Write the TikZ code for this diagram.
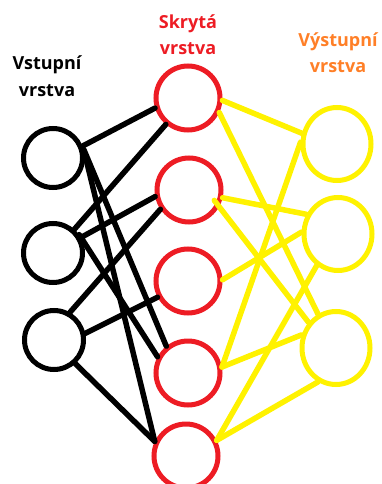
\documentclass[tikz,border=0pt]{standalone}
\usepackage{fontspec}
\setmainfont{Open Sans}
\usetikzlibrary{shapes.geometric}
\definecolor{paintred}{RGB}{237,28,36}
\definecolor{paintyellow}{RGB}{255,242,0}
\definecolor{paintorange}{RGB}{255,127,39}
\tikzset{
  neuron/.style={circle, draw, line width=5pt, minimum size=#1, inner sep=0pt},
  outneuron/.style={ellipse, draw=paintyellow, line width=5pt, minimum width=68pt, minimum height=73pt, inner sep=0pt},
  wire/.style={line width=5.5pt, line cap=round},
  caption/.style={font=\bfseries\fontsize{18pt}{26pt}\selectfont, align=center, anchor=base, inner sep=0pt}
}
\begin{document}
\begin{tikzpicture}[x=1pt, y=-1pt]
  \useasboundingbox (0,0) rectangle (381,484);

  % layer titles (base anchor sits on the second line)
  \node[caption] (tin) at (47,96) {Vstupní\\vrstva};
  \node[caption, text=paintred] (thid) at (188,55) {Skrytá\\vrstva};
  \node[caption, text=paintorange] (tout) at (338,73) {Výstupní\\vrstva};

  % input layer
  \node[neuron=59pt, draw=black] (i1) at (53,158) {};
  \node[neuron=59pt, draw=black] (i2) at (53,253) {};
  \node[neuron=59pt, draw=black] (i3) at (54,340) {};

  % hidden layer
  \node[neuron=64pt, draw=paintred] (h1) at (188,98) {};
  \node[neuron=64pt, draw=paintred] (h2) at (189,190) {};
  \node[neuron=64pt, draw=paintred] (h3) at (188,281) {};
  \node[neuron=64pt, draw=paintred] (h4) at (188,373) {};
  \node[neuron=64pt, draw=paintred] (h5) at (186,456) {};

  % output layer
  \node[outneuron] (o1) at (337,144) {};
  \node[outneuron] (o2) at (338,234) {};
  \node[outneuron] (o3) at (336,348) {};

  % input -> hidden
  \begin{scope}[wire, draw=black]
    \draw (i1.22) -- (h1.197);
    \draw (i1.15) -- (h4.129);
    \draw (i1.8)  -- (h5.155);
    \draw (i2.48) -- (h1.230);
    \draw (i2.29) -- (h2.191);
    \draw (i2.35) -- (h4.152);
    \draw (i3.60) -- (h2.214);
    \draw (i3.12) -- (h3.208);
    \draw (i3.312) -- (h5.155);
  \end{scope}

  % hidden -> output
  \begin{scope}[wire, draw=paintyellow]
    \draw (h1.356) -- (o1.163);
    \draw (h1.335) -- (o3.118);
    \draw (h2.347) -- (o2.148);
    \draw[shorten <=-8pt] (h2.331) -- (o3.137);
    \draw (h3.2)   -- (o2.177);
    \draw (h4.10)  -- (o1.177);
    \draw (h4.10)  -- (o3.159);
    \draw (h5.27)  -- (o2.236);
    \draw (h5.27)  -- (o3.242);
  \end{scope}
\end{tikzpicture}
\end{document}
